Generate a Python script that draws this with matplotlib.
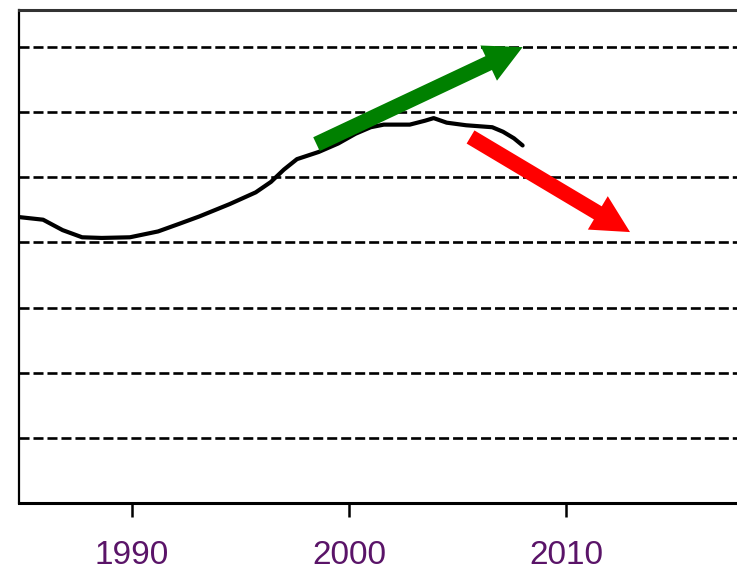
import matplotlib.pyplot as plt
from matplotlib.patches import FancyArrowPatch, ArrowStyle

# traced curve
years = [1984.8, 1985.9, 1986.8, 1987.7, 1988.6, 1989.9, 1991.2, 1992.2, 1993.1,
         1994.5, 1995.7, 1996.4, 1997.0, 1997.6, 1998.6, 1999.5, 2000.3, 2001.0,
         2001.6, 2002.8, 2003.5, 2003.9, 2004.5, 2005.4, 2006.6, 2007.1, 2007.6, 2008.0]
values = [4.39, 4.35, 4.19, 4.08, 4.07, 4.08, 4.17, 4.29, 4.40,
          4.59, 4.77, 4.93, 5.12, 5.28, 5.39, 5.52, 5.67, 5.77,
          5.81, 5.81, 5.87, 5.91, 5.84, 5.80, 5.77, 5.70, 5.60, 5.49]

# arrows: (start year, start value, end year, end value)
green_arrow = (1998.5, 5.51, 2008.0, 7.0)
red_arrow = (2005.6, 5.62, 2012.95, 4.16)

grid_levels = [1, 2, 3, 4, 5, 6, 7]
xticks = [1990, 2000, 2010]

fig = plt.figure(figsize=(7.37, 5.78), dpi=100)
ax = fig.add_axes([19 / 737, 75 / 578, 1 - 19 / 737, (503 - 10) / 578])

for g in grid_levels:
    ax.axhline(g, color='black', lw=1.9, ls=(0, (3.8, 1.5)), zorder=1)

ax.plot(years, values, color='black', lw=3.0, zorder=3, solid_capstyle='round')

for (x0, y0, x1, y1), col in [(green_arrow, '#008000'), (red_arrow, '#ff0000')]:
    style = ArrowStyle.Simple(head_length=27, head_width=28, tail_width=11)
    ax.add_patch(FancyArrowPatch((x0, y0), (x1, y1), arrowstyle=style,
                                 mutation_scale=1, color=col, lw=0,
                                 shrinkA=0, shrinkB=0, zorder=4))

ax.set_xlim(1984.79, 2017.88)
ax.set_ylim(0, 7.57)
ax.set_yticks([])
ax.set_xticks(xticks)
ax.set_xticklabels([str(t) for t in xticks], color='#5a1468',
                   family='Liberation Sans', fontsize=24)
ax.tick_params(axis='x', direction='out', length=10, width=1.8, pad=17)
ax.spines['right'].set_visible(False)
ax.spines['top'].set_linewidth(2.2)
ax.spines['top'].set_color('#333333')
ax.spines['bottom'].set_linewidth(2.2)
ax.spines['left'].set_linewidth(1.6)

fig.savefig('out.png', dpi=100)
